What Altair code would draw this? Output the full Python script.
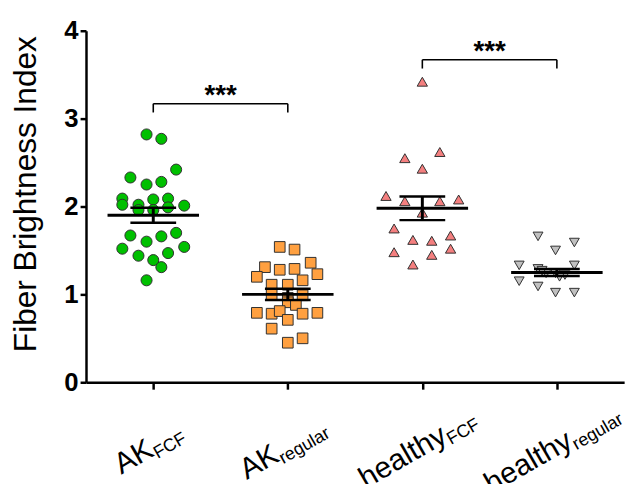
import altair as alt
import pandas as pd

FONT = "Liberation Sans"

# ---------------- data ----------------
groups = ["AK FCF", "AK regular", "healthy FCF", "healthy regular"]
label_main = ["AK", "AK", "healthy", "healthy"]
label_sub = ["FCF", "regular", "FCF", "regular"]
fill_colors = ["#00C000", "#FFA040", "#F47F7F", "#C0C0C0"]
shapes = ["circle", "square", "triangle-up", "triangle-down"]
sizes = [125, 100, 130, 130]

ak_fcf = [2.82, 2.77, 2.42, 2.33, 2.25, 2.28, 2.09, 2.02, 2.02, 2.08, 2.09, 2.01, 1.96,
          1.96, 1.99, 1.67, 1.60, 1.66, 1.70, 1.52, 1.54, 1.44, 1.39, 1.47, 1.31, 1.16]
ak_fcf_jit = [-0.05, 0.06, 0.17, -0.17, -0.05, 0.06, -0.23, -0.23, -0.11, 0.0, 0.11, 0.23, -0.11,
              0.0, 0.11, -0.17, -0.05, 0.06, 0.17, -0.23, 0.23, -0.11, 0.0, 0.11, 0.06, -0.05]

ak_reg = [1.54, 1.51, 1.31, 1.20, 1.28, 1.29, 1.36, 1.23, 1.11, 1.11, 1.16, 1.00, 0.99,
          0.96, 0.91, 0.79, 0.78, 0.81, 0.88, 0.78, 0.79, 0.71, 0.61, 0.45, 0.50]
ak_reg_jit = [-0.06, 0.05, -0.17, -0.23, -0.06, 0.05, 0.17, 0.22, -0.12, 0.0, 0.11, -0.12, 0.11,
              0.0, 0.0, -0.23, -0.12, -0.06, 0.06, 0.11, 0.22, 0.0, -0.12, 0.0, 0.11]

h_fcf = [3.42, 2.55, 2.62, 2.43, 2.12, 2.06, 2.06, 2.08, 1.93, 1.75, 1.62, 1.61, 1.67,
         1.52, 1.48, 1.45, 1.34]
h_fcf_jit = [0.0, -0.13, 0.13, 0.0, -0.27, -0.13, 0.13, 0.27, 0.0, -0.21, -0.07, 0.07, 0.21,
             0.21, -0.21, 0.07, -0.07]

h_reg = [1.66, 1.59, 1.50, 1.33, 1.29, 1.33, 1.24, 1.24, 1.22, 1.27, 1.15, 1.09, 1.02, 1.02, 1.20]
h_reg_jit = [-0.14, 0.13, -0.01, -0.28, -0.14, 0.13, -0.08, -0.01, 0.06, -0.11, -0.28, -0.14,
             -0.01, 0.13, 0.02]

means = [1.90, 1.00, 1.98, 1.25]
sems = [0.085, 0.065, 0.135, 0.04]

bracket_from = [0, 2]
bracket_to = [1, 3]
bracket_y = [3.17, 3.67]
bracket_tail = [3.07, 3.57]
star_text = ["***", "***"]

# ---------------- layout constants ----------------
WIDTH, HEIGHT = 545, 356
X_DOMAIN, Y_DOMAIN = [-0.5, 3.5], [0, 4]
PX_X = WIDTH / (X_DOMAIN[1] - X_DOMAIN[0])
PX_Y = HEIGHT / (Y_DOMAIN[1] - Y_DOMAIN[0])

# ---------------- tables ----------------
values = [ak_fcf, ak_reg, h_fcf, h_reg]
jitters = [ak_fcf_jit, ak_reg_jit, h_fcf_jit, h_reg_jit]
rows = []
for gi, (vals, jit) in enumerate(zip(values, jitters)):
    for v, j in zip(vals, jit):
        rows.append({"group": groups[gi], "x": gi + j, "y": v})
pts = pd.DataFrame(rows)

stats = pd.DataFrame({"gi": list(range(4)), "mean": means, "sem": sems})
br = pd.DataFrame({"a": bracket_from, "b": bracket_to, "yb": bracket_y,
                   "yt": bracket_tail, "stars": star_text})

# rotated category labels with subscripts: placement along a 30 degree baseline
W = {"A": .667, "K": .667, "h": .556, "e": .556, "a": .556, "l": .222, "t": .278,
     "y": .5, "F": .611, "C": .722, "r": .333, "g": .556, "u": .556}
MAIN_FS, SUB_FS = 30, 18
COS, SIN = 0.866, 0.5
D = 75            # baseline centre below the axis, px
SUB_DROP = 5      # subscript baseline shift, px
MID = 0.30        # vega 'middle' baseline offset (fraction of font size)


def text_width(s, fs):
    return sum(W.get(c, .556) for c in s) * fs


def along(t, up, drop=0.0):
    return (t * COS - up * SIN + drop * SIN, D - t * SIN - up * COS + drop * COS)


main_rows, sub_rows = [], []
for i in range(4):
    wm = text_width(label_main[i], MAIN_FS)
    ws = text_width(label_sub[i], SUB_FS)
    mx, my = along(-ws / 2, MID * MAIN_FS)
    sx, sy = along(wm / 2, MID * SUB_FS, SUB_DROP)
    main_rows.append({"x": i + mx / PX_X, "y": -my / PX_Y, "t": label_main[i], "a": 330})
    sub_rows.append({"x": i + sx / PX_X, "y": -sy / PX_Y, "t": label_sub[i], "a": 330})
main_df = pd.DataFrame(main_rows)
sub_df = pd.DataFrame(sub_rows)

# ---------------- scales / axes ----------------
xscale = alt.Scale(domain=X_DOMAIN, nice=False, zero=False)
yscale = alt.Scale(domain=Y_DOMAIN, nice=False, zero=True)
xaxis = alt.Axis(values=[0, 1, 2, 3], labels=False, title=None, grid=False,
                 tickSize=7, tickWidth=2.5, tickColor="black",
                 domainWidth=2.5, domainColor="black")
yaxis = alt.Axis(values=[0, 1, 2, 3, 4], format="d", title="Fiber Brightness Index",
                 grid=False, tickSize=6, tickWidth=2.5, tickColor="black",
                 domainWidth=2.5, domainColor="black",
                 labelFont=FONT, labelFontSize=26, labelFontWeight="bold",
                 labelColor="black", labelPadding=2, labelFlush=False,
                 titleFont=FONT, titleFontSize=32, titleFontWeight="normal",
                 titleColor="black", titleAngle=270, titleX=-61, titleY=165,
                 titleAlign="center", titleBaseline="middle")

X = alt.X("x:Q", scale=xscale, axis=xaxis)
Y = alt.Y("y:Q", scale=yscale, axis=yaxis)

points = alt.Chart(pts).mark_point(
    filled=True, opacity=1, stroke="#303030", strokeWidth=1
).encode(
    x=X, y=Y,
    fill=alt.Fill("group:N", scale=alt.Scale(domain=groups, range=fill_colors), legend=None),
    shape=alt.Shape("group:N", scale=alt.Scale(domain=groups, range=shapes), legend=None),
    size=alt.Size("group:N", scale=alt.Scale(domain=groups, range=sizes), legend=None),
)

mean_line = alt.Chart(stats).transform_calculate(
    x="datum.gi - 0.34", x2="datum.gi + 0.34", y="datum.mean"
).mark_rule(color="black", strokeWidth=3).encode(x=X, x2="x2:Q", y=Y)

sem_v = alt.Chart(stats).transform_calculate(
    x="datum.gi", y="datum.mean - datum.sem", y2="datum.mean + datum.sem"
).mark_rule(color="black", strokeWidth=3).encode(x=X, y=Y, y2="y2:Q")

sem_caps = alt.Chart(stats).transform_fold(
    ["lo", "hi"], as_=["side", "dummy"]
).transform_calculate(
    x="datum.gi - 0.17", x2="datum.gi + 0.17",
    y="datum.side == 'hi' ? datum.mean + datum.sem : datum.mean - datum.sem"
).mark_rule(color="black", strokeWidth=2.5).encode(x=X, x2="x2:Q", y=Y)

br_h = alt.Chart(br).transform_calculate(
    x="datum.a", x2="datum.b", y="datum.yb"
).mark_rule(color="black", strokeWidth=1.6).encode(x=X, x2="x2:Q", y=Y)

br_l = alt.Chart(br).transform_calculate(
    x="datum.a", y="datum.yt", y2="datum.yb"
).mark_rule(color="black", strokeWidth=1.6).encode(x=X, y=Y, y2="y2:Q")

br_r = alt.Chart(br).transform_calculate(
    x="datum.b", y="datum.yt", y2="datum.yb"
).mark_rule(color="black", strokeWidth=1.6).encode(x=X, y=Y, y2="y2:Q")

stars = alt.Chart(br).transform_calculate(
    x="(datum.a + datum.b) / 2", y="datum.yb"
).mark_text(font=FONT, fontSize=28, fontWeight="bold", color="black",
            align="center", baseline="alphabetic").encode(x=X, y=Y, text="stars:N")

main_labels = alt.Chart(main_df).mark_text(font=FONT, fontSize=MAIN_FS, angle=330).encode(
    x=X, y=Y, text="t:N", angle=alt.Angle("a:Q", scale=None))
sub_labels = alt.Chart(sub_df).mark_text(font=FONT, fontSize=SUB_FS, angle=330).encode(
    x=X, y=Y, text="t:N", angle=alt.Angle("a:Q", scale=None))

chart = alt.layer(
    points, mean_line, sem_v, sem_caps, br_h, br_l, br_r, stars, main_labels, sub_labels
).properties(
    width=WIDTH, height=HEIGHT,
    autosize=alt.AutoSizeParams(type="none"),
    padding={"left": 79, "top": 20, "right": 11, "bottom": 100},
    background="white",
).configure_view(stroke=None)

chart.save("out.html", embed_options={"renderer": "svg", "actions": False})
